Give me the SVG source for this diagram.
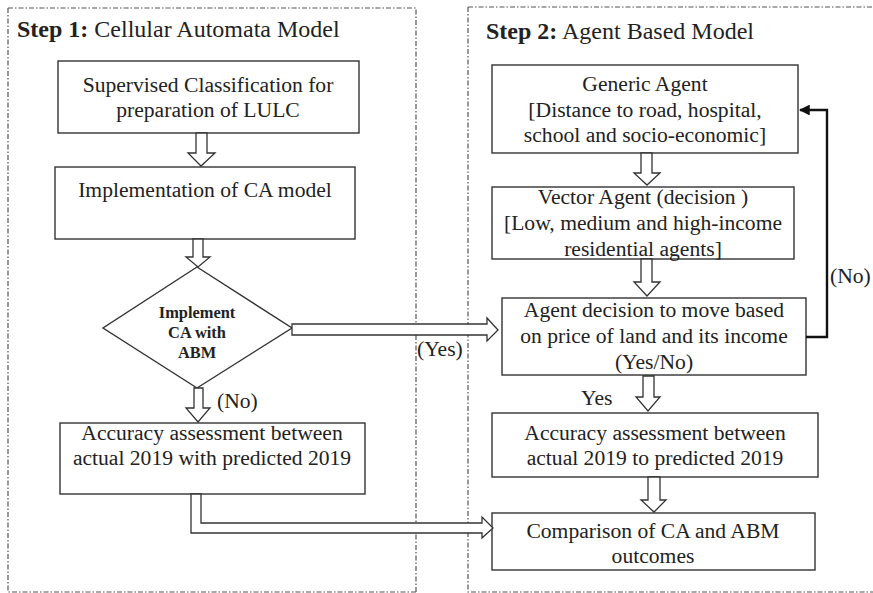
<svg xmlns="http://www.w3.org/2000/svg" width="873" height="593" viewBox="0 0 873 593">
  <style>
    .panel { fill: none; stroke: #555; stroke-width: 1.2; stroke-dasharray: 5 2 1.5 2; }
    .box { fill: #fff; stroke: #333; stroke-width: 1.4; }
    .harrow { fill: #fff; stroke: #333; stroke-width: 1.3; stroke-linejoin: miter; }
    .t { font-family: "Liberation Serif", "Times New Roman", serif; font-size: 21.6px; fill: #222; text-anchor: middle; }
    .title { font-family: "Liberation Serif", "Times New Roman", serif; font-size: 24px; fill: #222; }
    .dt { font-family: "Liberation Serif", "Times New Roman", serif; font-size: 16.4px; font-weight: bold; fill: #222; text-anchor: middle; }
    .lbl { font-family: "Liberation Serif", "Times New Roman", serif; font-size: 21.6px; fill: #222; }
    .fb { fill: none; stroke: #111; stroke-width: 2.4; }
  </style>
  <defs>
    <marker id="fbHead" viewBox="0 0 10 10" refX="9" refY="5" markerWidth="4.5" markerHeight="4.5" orient="auto" markerUnits="strokeWidth">
      <path d="M0,0 L10,5 L0,10 Z" fill="#111"/>
    </marker>
  </defs>
  <rect width="873" height="593" fill="#fff"/>

  <!-- panels -->
  <g id="panel-ca">
    <path class="panel" d="M8,8 H416 V592 M8,8 V592 H416"/>
    <text class="title" x="17" y="37"><tspan font-weight="bold">Step 1:</tspan> Cellular Automata Model</text>
  </g>
  <g id="panel-abm">
    <path class="panel" d="M468,7 H873 M468,7 V592 H873"/>
    <text class="title" x="486" y="39"><tspan font-weight="bold">Step 2:</tspan> Agent Based Model</text>
  </g>

  <!-- step 1 nodes -->
  <g id="supervised">
    <rect class="box" x="58" y="61" width="301" height="72"/>
    <text class="t" x="208" y="92">Supervised Classification for</text>
    <text class="t" x="208" y="117">preparation of LULC</text>
  </g>
  <g id="implementation">
    <rect class="box" x="55" y="167" width="300" height="72"/>
    <text class="t" x="205" y="197">Implementation of CA model</text>
  </g>
  <g id="decision-ca">
    <polygon class="box" points="197,267 292,328 197,388 103,328"/>
    <text class="dt" x="197" y="318">Implement</text>
    <text class="dt" x="197" y="338">CA with</text>
    <text class="dt" x="197" y="358">ABM</text>
  </g>
  <g id="accuracy-ca">
    <rect class="box" x="60" y="423" width="305" height="71"/>
    <text class="t" x="212" y="440">Accuracy assessment between</text>
    <text class="t" x="212" y="465">actual 2019 with predicted 2019</text>
  </g>

  <!-- step 2 nodes -->
  <g id="generic-agent">
    <rect class="box" x="492" y="65" width="306" height="88"/>
    <text class="t" x="645" y="91">Generic Agent</text>
    <text class="t" x="645" y="117">[Distance to road, hospital,</text>
    <text class="t" x="645" y="142">school and socio-economic]</text>
  </g>
  <g id="vector-agent">
    <rect class="box" x="492" y="187" width="302" height="72"/>
    <text class="t" x="643" y="204">Vector Agent (decision )</text>
    <text class="t" x="643" y="230">[Low, medium and high-income</text>
    <text class="t" x="643" y="256">residential agents]</text>
  </g>
  <g id="agent-decision">
    <rect class="box" x="502" y="298" width="304" height="77"/>
    <text class="t" x="654" y="317">Agent decision to move based</text>
    <text class="t" x="654" y="343">on price of land and its income</text>
    <text class="t" x="654" y="369">(Yes/No)</text>
  </g>
  <g id="accuracy-abm">
    <rect class="box" x="492" y="413" width="326" height="64"/>
    <text class="t" x="655" y="440">Accuracy assessment between</text>
    <text class="t" x="655" y="465">actual 2019 to predicted 2019</text>
  </g>
  <g id="comparison">
    <rect class="box" x="492" y="513" width="323" height="57"/>
    <text class="t" x="653" y="538">Comparison of CA and ABM</text>
    <text class="t" x="653" y="563">outcomes</text>
  </g>

  <!-- connectors -->
  <g id="connectors">
    <!-- hollow block arrows, step 1 -->
    <polygon class="harrow" points="196,133 207,133 207,153 215,153 201,166 188,153 196,153"/>
    <polygon class="harrow" points="193,239 203,239 203,257 210,257 198,267 186,257 193,257"/>
    <polygon class="harrow" points="194,388 203,388 203,408 210,408 198,422 186,408 194,408"/>
    <!-- yes branch to agent decision -->
    <polygon class="harrow" points="292,324 487,324 487,318 498,330 487,341 487,335 292,335"/>
    <!-- elbow to comparison -->
    <polygon class="harrow" points="191,494 201,494 201,523 482,523 482,517 493,528 482,538 482,533 191,533"/>
    <!-- hollow block arrows, step 2 -->
    <polygon class="harrow" points="641,153 652,153 652,173 660,173 647,185 634,173 641,173"/>
    <polygon class="harrow" points="641,259 652,259 652,282 660,282 647,296 634,282 641,282"/>
    <polygon class="harrow" points="643,376 654,376 654,397 660,397 648,411 636,397 643,397"/>
    <polygon class="harrow" points="648,477 660,477 660,500 666,500 654,512 641,500 648,500"/>
    <!-- feedback loop -->
    <polyline class="fb" points="806,337 827,337 827,110 800,110" marker-end="url(#fbHead)"/>
    <!-- labels -->
    <text class="lbl" x="417" y="356">(Yes)</text>
    <text class="lbl" x="217" y="408">(No)</text>
    <text class="lbl" x="581" y="405">Yes</text>
    <text class="lbl" x="830" y="283">(No)</text>
  </g>
</svg>
